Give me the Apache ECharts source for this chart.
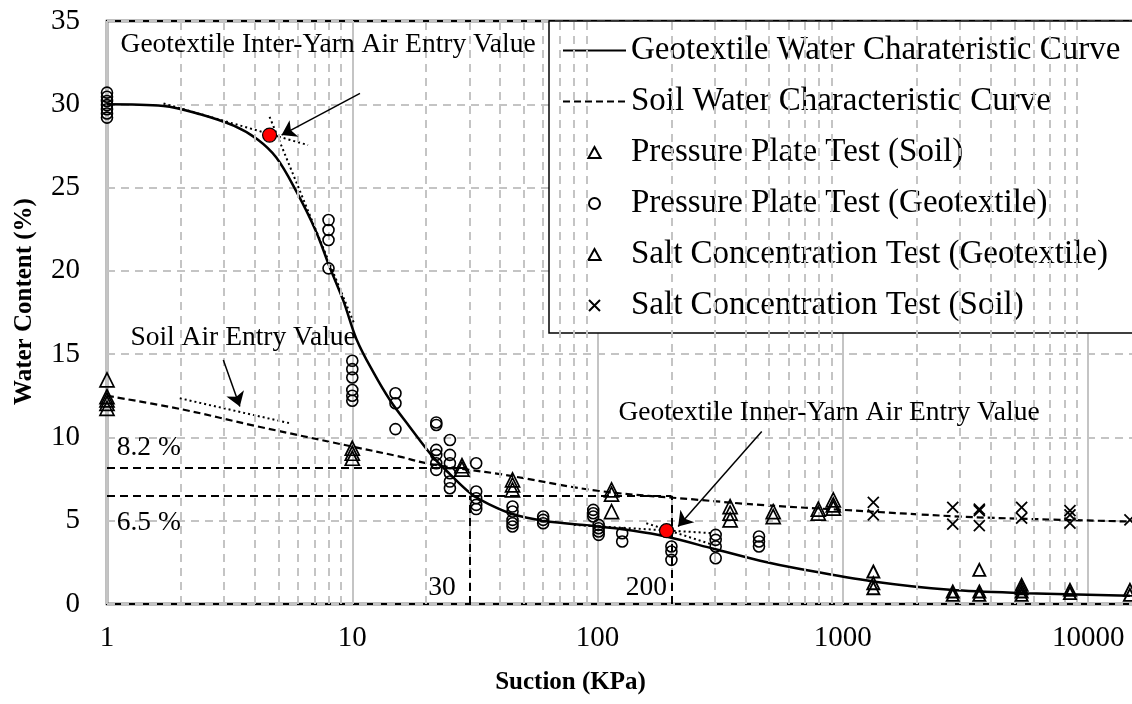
<!DOCTYPE html>
<html>
<head>
<meta charset="utf-8">
<script src="https://cdn.jsdelivr.net/npm/echarts@6/dist/echarts.min.js"></script>
<style>
  html, body { margin: 0; padding: 0; background: #fff; overflow: hidden; }
  #chart { width: 1170px; height: 704px; }
</style>
</head>
<body>
<div id="chart"></div>
<script>
// Fitted water characteristic curves (suction in kPa, water content in %)
const geoCurveSuction = [1, 1.7, 2.4, 3.3, 4.1, 4.9, 5.9, 7.1, 8.1, 9.2, 10.4, 12.2, 14.3, 17, 21.4, 25, 30.6, 36, 45, 60, 100, 140, 190, 300, 460, 670, 1330, 2730, 5600, 14800];
const geoCurveWater   = [30.0, 29.9, 29.4, 28.7, 27.9, 26.8, 24.8, 22.4, 20.2, 18.2, 15.9, 13.9, 12.2, 10.7, 8.8, 7.8, 6.6, 6.0, 5.4, 5.0, 4.65, 4.4, 4.05, 3.3, 2.6, 2.1, 1.35, 0.85, 0.65, 0.5];

const soilCurveSuction = [1, 2, 4, 10, 15.6, 20, 30, 40, 100, 260, 460, 1000, 3000, 6000, 14800];
const soilCurveWater   = [12.5, 11.7, 10.7, 9.45, 8.85, 8.45, 8.05, 7.8, 6.8, 6.25, 5.95, 5.65, 5.25, 5.1, 4.95];

// Pressure plate test, geotextile specimens
const ppGeoSuction = [1, 1, 1, 1, 1, 1, 1,
  8, 8, 8, 8,
  10, 10, 10, 10, 10, 10,
  15, 15, 15,
  22, 22, 22, 22, 22, 22,
  25, 25, 25, 25, 25, 25,
  32, 32, 32, 32, 32,
  45, 45, 45, 45, 45,
  60, 60, 60,
  96, 96, 96,
  101, 101, 101, 101,
  126, 126,
  200, 200, 200,
  303, 303, 303, 303,
  455, 455, 455];
const ppGeoWater = [30.7, 30.45, 30.2, 29.95, 29.7, 29.45, 29.2,
  23.05, 22.45, 21.85, 20.15,
  14.6, 14.1, 13.6, 12.85, 12.5, 12.2,
  12.65, 12.05, 10.5,
  10.9, 10.75, 9.25, 8.95, 8.45, 8.05,
  9.85, 8.95, 8.45, 7.85, 7.35, 6.95,
  8.45, 6.75, 6.35, 5.95, 5.7,
  5.85, 5.55, 5.05, 4.85, 4.65,
  5.25, 5.05, 4.85,
  5.65, 5.45, 5.25,
  4.75, 4.55, 4.35, 4.15,
  4.25, 3.75,
  3.45, 3.15, 2.65,
  4.15, 3.85, 3.45, 2.75,
  4.05, 3.75, 3.45];

// Pressure plate test, soil specimens
const ppSoilSuction = [1, 1, 1, 1, 1, 10, 10, 10, 28, 28, 45, 45, 45, 114, 114, 114, 347, 347, 347, 520, 520, 794, 794, 914, 914, 914];
const ppSoilWater   = [13.45, 12.45, 12.25, 12.05, 11.75, 9.35, 9.05, 8.75, 8.3, 8.1, 7.45, 7.15, 6.85, 6.85, 6.6, 5.55, 5.85, 5.45, 5.05, 5.55, 5.25, 5.7, 5.45, 6.25, 5.95, 5.75];

// Salt concentration test, geotextile specimens
const saltGeoSuction = [1331, 1331, 1331, 2805, 2805, 3600, 3600, 3600, 5355, 5355, 5355, 5355, 8430, 8430, 14800, 14800];
const saltGeoWater   = [1.95, 1.25, 0.95, 0.75, 0.55, 2.05, 0.75, 0.55, 1.15, 0.95, 0.75, 0.55, 0.85, 0.65, 0.85, 0.55];

// Salt concentration test, soil specimens
const saltSoilSuction = [1331, 1331, 2805, 2805, 3600, 3600, 3600, 5355, 5355, 8430, 8430, 8430, 14800];
const saltSoilWater   = [6.1, 5.35, 5.8, 4.8, 5.7, 5.6, 4.7, 5.8, 5.15, 5.6, 5.35, 4.85, 5.05];

// Air entry values marked on the curves
const airEntrySuction = [4.6, 191];
const airEntryWater   = [28.15, 4.4];

// Tangent construction lines: [suction, water] end points
const tangentInterYarnFlat  = [[1.7, 30.05], [6.6, 27.55]];
const tangentInterYarnSteep = [[4.6, 29.25], [10.2, 16.8]];
const tangentSoil           = [[1.98, 12.35], [5.57, 10.85]];
const tangentInnerYarnFlat  = [[80, 4.75], [296, 4.25]];
const tangentInnerYarnSteep = [[158, 4.85], [296, 3.55]];

// Annotation arrows: [tail, head]
const arrowInterYarn = [[10.75, 30.65], [5.15, 28.15]];
const arrowSoil      = [[2.98, 14.65], [3.48, 11.85]];
const arrowInnerYarn = [[467, 10.35], [213, 4.65]];

// Reference levels
const levelSoil = 8.2;
const levelGeo = 6.5;
const suctionSoilLevel = 30;
const suctionGeoLevel = 200;

// Axis ticks
const xTickLabels = [1, 10, 100, 1000, 10000];
const yTickLabels = [0, 5, 10, 15, 20, 25, 30, 35];

const legendNames = [
  'Geotextile Water Charateristic Curve',
  'Soil Water Characteristic Curve',
  'Pressure Plate Test (Soil)',
  'Pressure Plate Test (Geotextile)',
  'Salt Concentration Test (Geotextile)',
  'Salt Concentration Test (Soil)'
];

const FONT = 'Liberation Serif';
const TRIANGLE = 'path://M5,0L10,9L0,9Z';
const CROSS = 'path://M0,0L10,10M0,10L10,0';
const pairs = (xs, ys) => xs.map((x, i) => [x, ys[i]]);

// minor vertical grid at 2..9 of every decade
const xMinorGrid = [];
xTickLabels.forEach(d => { for (let m = 2; m <= 9; m++) xMinorGrid.push(m * d); });

const chart = echarts.init(document.getElementById('chart'), null, { renderer: 'canvas' });

const tangentSeries = [tangentInterYarnFlat, tangentInterYarnSteep, tangentSoil, tangentInnerYarnFlat, tangentInnerYarnSteep]
  .map(seg => ({
    type: 'line', data: seg, symbol: 'none', silent: true, z: 3,
    lineStyle: { color: '#000', width: 2, type: [2, 3] }
  }));

const noteStyle = { show: true, position: 'right', distance: 0, color: '#000', opacity: 1, fontFamily: FONT, fontSize: 27.5 };
const note = (pos, text, extra) => ({ value: pos, label: Object.assign({}, noteStyle, { formatter: text }, extra || {}) });

// open marker style shared by the test series
const openMarker = w => ({ color: 'rgba(0,0,0,0)', borderColor: '#000', borderWidth: w, opacity: 1 });

chart.setOption({
  animation: false,
  backgroundColor: '#fff',
  grid: {
    left: 107, top: 21, width: 1055, height: 583,
    show: true, borderColor: '#000', borderWidth: 2.5, backgroundColor: 'transparent'
  },
  legend: {
    data: [
      { name: legendNames[0], itemStyle: { color: 'rgba(0,0,0,0)', borderWidth: 0 } },
      { name: legendNames[1], itemStyle: { color: 'rgba(0,0,0,0)', borderWidth: 0 } },
      legendNames[2], legendNames[3], legendNames[4], legendNames[5]
    ],
    orient: 'vertical',
    left: 549, top: 21,
    padding: [13, 60, 11, 13],
    itemWidth: 63, itemHeight: 11, itemGap: 18,
    backgroundColor: '#fff', borderColor: '#000', borderWidth: 1.5,
    textStyle: { fontFamily: FONT, fontSize: 33, color: '#000' },
    selectedMode: false
  },
  xAxis: {
    type: 'log', logBase: 10, min: 1, max: 20000,
    name: 'Suction (KPa)', nameLocation: 'middle', nameGap: 66,
    nameTextStyle: { fontFamily: FONT, fontSize: 25, fontWeight: 'bold', color: '#000', padding: [0, 128, 0, 0] },
    axisLine: { show: false },
    axisTick: { show: false },
    axisLabel: {
      fontFamily: FONT, fontSize: 29, color: '#000', margin: 20,
      formatter: v => {
        const r = Math.round(v);
        return xTickLabels.indexOf(r) >= 0 ? String(r) : '';
      }
    },
    splitLine: { show: true, lineStyle: { color: '#c4c4c4', width: 2, type: 'solid' } }
  },
  yAxis: {
    type: 'value', min: 0, max: 35, interval: 5,
    name: 'Water Content (%)', nameLocation: 'middle', nameGap: 70, nameRotate: 90,
    nameTextStyle: { fontFamily: FONT, fontSize: 25, fontWeight: 'bold', color: '#000', padding: [0, 0, 0, 22] },
    axisLine: { show: false },
    axisTick: { show: false },
    axisLabel: {
      fontFamily: FONT, fontSize: 29, color: '#000', margin: 27,
      formatter: v => (yTickLabels.indexOf(v) >= 0 ? String(v) : '')
    },
    splitLine: { show: true, lineStyle: { color: '#c4c4c4', width: 2, type: [8, 6] } }
  },
  series: [
    // minor log grid
    {
      type: 'line', data: [], silent: true, z: 1,
      markLine: {
        silent: true, symbol: 'none', label: { show: false },
        lineStyle: { color: '#c4c4c4', width: 2, type: [8, 6] },
        data: xMinorGrid.map(v => ({ xAxis: v }))
      }
    },
    {
      name: legendNames[0], type: 'line', data: pairs(geoCurveSuction, geoCurveWater),
      symbol: 'none', smooth: 0.35, z: 4,
      lineStyle: { color: '#000', width: 2.5, type: 'solid' },
      itemStyle: { color: '#000' }
    },
    {
      name: legendNames[1], type: 'line', data: pairs(soilCurveSuction, soilCurveWater),
      symbol: 'none', smooth: 0.35, z: 4,
      lineStyle: { color: '#000', width: 2.2, type: [7, 4] },
      itemStyle: { color: '#000' },
      markLine: {
        silent: true, symbol: 'none', label: { show: false },
        lineStyle: { color: '#000', width: 2, type: [8, 5] },
        data: [
          [{ coord: [1, levelSoil] }, { coord: [suctionSoilLevel, levelSoil] }],
          [{ coord: [1, levelGeo] }, { coord: [suctionGeoLevel, levelGeo] }],
          [{ coord: [suctionSoilLevel, 0] }, { coord: [suctionSoilLevel, levelGeo] }],
          [{ coord: [suctionGeoLevel, 0] }, { coord: [suctionGeoLevel, levelGeo] }]
        ]
      }
    },
    {
      name: legendNames[2], type: 'scatter', data: pairs(ppSoilSuction, ppSoilWater),
      symbol: TRIANGLE, symbolSize: 14, z: 5, itemStyle: openMarker(1.7)
    },
    {
      name: legendNames[3], type: 'scatter', data: pairs(ppGeoSuction, ppGeoWater),
      symbol: 'circle', symbolSize: 11, z: 5, itemStyle: openMarker(1.6)
    },
    {
      name: legendNames[4], type: 'scatter', data: pairs(saltGeoSuction, saltGeoWater),
      symbol: TRIANGLE, symbolSize: 12, z: 5, itemStyle: openMarker(1.9)
    },
    {
      name: legendNames[5], type: 'scatter', data: pairs(saltSoilSuction, saltSoilWater),
      symbol: CROSS, symbolSize: 11, z: 5, itemStyle: openMarker(1.8)
    },
    ...tangentSeries,
    // air entry points
    {
      type: 'scatter', data: pairs(airEntrySuction, airEntryWater),
      symbol: 'circle', symbolSize: 14, z: 6,
      itemStyle: { color: '#ff0000', borderColor: '#000', borderWidth: 1.2, opacity: 1 }
    },
    // arrows pointing to the air entry values
    {
      type: 'lines', coordinateSystem: 'cartesian2d', silent: true, z: 6,
      symbol: ['none', 'arrow'], symbolSize: 14,
      lineStyle: { color: '#000', width: 1.5, opacity: 1, curveness: 0 },
      data: [arrowInterYarn, arrowSoil, arrowInnerYarn].map(c => ({ coords: c }))
    },
    // text notes
    {
      type: 'scatter', silent: true, symbolSize: 1, z: 7,
      itemStyle: { color: 'rgba(0,0,0,0)', opacity: 1 },
      data: [
        note([1.13, 33.55], 'Geotextile Inter-Yarn Air Entry Value'),
        note([1.24, 16.0], 'Soil Air Entry Value'),
        note([121, 11.5], 'Geotextile Inner-Yarn Air Entry Value'),
        note([1.09, 9.35], levelSoil.toFixed(1) + ' %'),
        note([1.09, 4.9], levelGeo.toFixed(1) + ' %'),
        note([suctionSoilLevel, 1.0], String(suctionSoilLevel), { position: 'left', distance: 13 }),
        note([suctionGeoLevel, 1.0], String(suctionGeoLevel), { position: 'left', distance: 4 })
      ]
    }
  ]
});
</script>
</body>
</html>
